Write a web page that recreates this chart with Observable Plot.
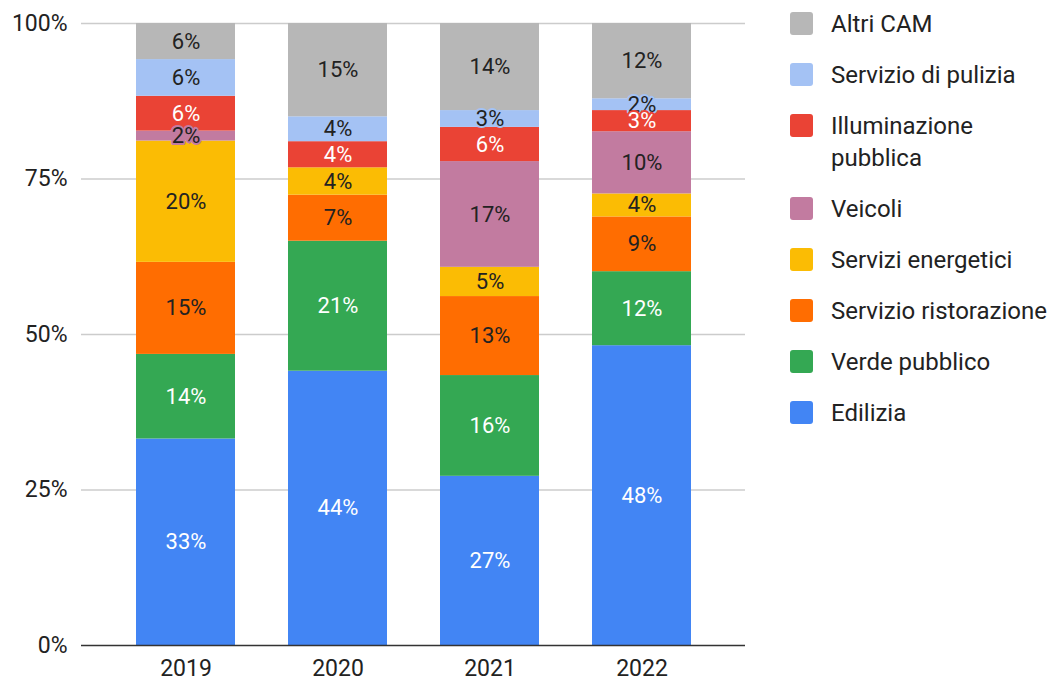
<!DOCTYPE html>
<html>
<head>
<meta charset="utf-8">
<script src="https://cdn.jsdelivr.net/npm/d3@7"></script>
<script src="https://cdn.jsdelivr.net/npm/@observablehq/plot@0.6"></script>
<style>
  html, body { margin: 0; padding: 0; background: #fff; }
  body { width: 1056px; height: 683px; position: relative; overflow: hidden; font-family: Roboto, sans-serif; }
  #chart { position: absolute; left: 0; top: 0; }
  #legend { position: absolute; left: 790px; top: 11px; font-family: Roboto, sans-serif; font-size: 24px; color: #222; }
  .item { display: flex; align-items: flex-start; margin-bottom: 22px; }
  .sw { width: 23px; height: 23px; border-radius: 3px; flex: none; margin-top: 1px; }
  .lab { margin-left: 18px; line-height: 32px; margin-top: -3px; width: 225px; }
</style>
</head>
<body>
<div id="chart"></div>
<div id="legend"></div>
<script>
const years = ["2019", "2020", "2021", "2022"];
const categories = ["Edilizia", "Verde pubblico", "Servizio ristorazione", "Servizi energetici", "Veicoli", "Illuminazione pubblica", "Servizio di pulizia", "Altri CAM"];
const colors = ["#4285F4", "#34A853", "#FF6D01", "#FBBC04", "#C27BA0", "#EA4335", "#A4C2F4", "#B7B7B7"];
const whiteLabelCats = ["Edilizia", "Verde pubblico", "Illuminazione pubblica"];
const legendOrder = ["Altri CAM", "Servizio di pulizia", "Illuminazione pubblica", "Veicoli", "Servizi energetici", "Servizio ristorazione", "Verde pubblico", "Edilizia"];

// percentage shares per year (2019, 2020, 2021, 2022)
const edilizia      = [33.2, 44.1, 27.2, 48.2];
const verdePubblico = [13.6, 20.9, 16.2, 11.9];
const ristorazione  = [14.8, 7.4, 12.7, 8.8];
const energetici    = [19.5, 4.4, 4.7, 3.7];
const veicoli       = [1.6, 0, 17.0, 10.0];
const illuminazione = [5.6, 4.2, 5.5, 3.4];
const pulizia       = [5.9, 4.0, 2.7, 1.9];
const altriCAM      = [5.8, 15.0, 14.0, 12.1];

const series = [edilizia, verdePubblico, ristorazione, energetici, veicoli, illuminazione, pulizia, altriCAM];
const yTicks = [0, 25, 50, 75, 100];

const data = [];
categories.forEach((cat, i) => {
  years.forEach((year, j) => {
    data.push({year, cat, value: series[i][j]});
  });
});

const stackOpts = {x: "year", y: "value", order: categories};
const darkText = d => (d.value > 0 && !whiteLabelCats.includes(d.cat)) ? Math.round(d.value) + "%" : "";
const lightText = d => (d.value > 0 && whiteLabelCats.includes(d.cat)) ? Math.round(d.value) + "%" : "";

const chart = Plot.plot({
  width: 770,
  height: 683,
  marginLeft: 81,
  marginRight: 25,
  marginTop: 23,
  marginBottom: 38,
  style: {fontFamily: "Roboto, sans-serif", fontSize: "23px", color: "#222", background: "#fff"},
  x: {domain: years, padding: 0.35, label: null, tickSize: 0, tickPadding: 14},
  y: {domain: [0, 100], ticks: yTicks, tickFormat: d => d + "%", label: null, tickSize: 0, tickPadding: 14},
  color: {domain: categories, range: colors},
  marks: [
    Plot.ruleY(yTicks.filter(t => t > 0), {stroke: "#cccccc", strokeWidth: 1.5}),
    Plot.barY(data, Plot.stackY({...stackOpts, fill: "cat"})),
    Plot.ruleY([0], {stroke: "#333", strokeWidth: 1.5}),
    Plot.text(data, Plot.stackY({
      ...stackOpts, text: darkText, fill: "#222", stroke: "cat", strokeWidth: 4, fontSize: 22
    })),
    Plot.text(data, Plot.stackY({
      ...stackOpts, text: lightText, fill: "#fff", stroke: "cat", strokeWidth: 4, fontSize: 22
    }))
  ]
});
document.getElementById("chart").appendChild(chart);

const legend = document.getElementById("legend");
legendOrder.forEach(cat => {
  const item = document.createElement("div");
  item.className = "item";
  const sw = document.createElement("div");
  sw.className = "sw";
  sw.style.background = colors[categories.indexOf(cat)];
  const lab = document.createElement("div");
  lab.className = "lab";
  lab.textContent = cat;
  item.appendChild(sw);
  item.appendChild(lab);
  legend.appendChild(item);
});
</script>
</body>
</html>
